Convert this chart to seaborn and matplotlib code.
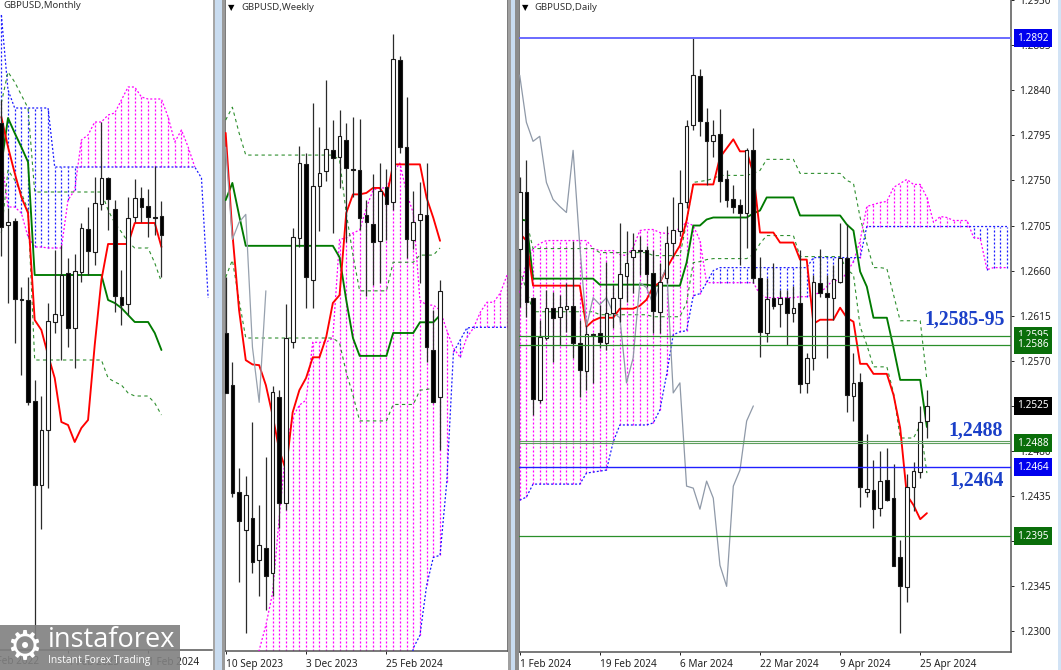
import numpy as np
import pandas as pd
import seaborn as sns
import matplotlib
matplotlib.use("Agg")
import matplotlib.pyplot as plt
from matplotlib.patches import Rectangle

sns.set_theme(style="white")
plt.rcParams['font.family'] = ['Noto Sans', 'DejaVu Sans']

W, H = 1061, 670

# ---- monthly candles
m_open = [1.3185, 1.2675, 1.2695, 1.2305, 1.2300, 1.1795, 1.1375, 1.1650, 1.2190, 1.2225, 1.2435, 1.2160, 1.2440, 1.2655, 1.2540, 1.2780, 1.2910, 1.2755, 1.2315, 1.2280, 1.2715, 1.2810, 1.2770, 1.2715, 1.2720]
m_high = [1.3300, 1.2760, 1.2710, 1.2365, 1.2415, 1.1900, 1.1820, 1.2285, 1.2550, 1.2575, 1.2510, 1.2530, 1.2685, 1.2765, 1.2915, 1.3190, 1.2915, 1.2800, 1.2450, 1.2815, 1.2905, 1.2865, 1.2855, 1.2970, 1.2795]
m_low = [1.2520, 1.2285, 1.2085, 1.1925, 1.1775, 1.0600, 1.1155, 1.1360, 1.2135, 1.2000, 1.2065, 1.1960, 1.2390, 1.2425, 1.2475, 1.2750, 1.2650, 1.2240, 1.2175, 1.2225, 1.2690, 1.2690, 1.2615, 1.2625, 1.2415]
m_close = [1.2665, 1.2690, 1.2305, 1.2300, 1.1790, 1.1375, 1.1650, 1.2195, 1.2230, 1.2425, 1.2160, 1.2445, 1.2660, 1.2545, 1.2785, 1.2910, 1.2805, 1.2320, 1.2275, 1.2710, 1.2810, 1.2765, 1.2715, 1.2710, 1.2625]
m_tenkan = [1.3215, 1.3065, 1.2935, 1.2815, 1.2735, 1.2200, 1.2150, 1.2025, 1.1910, 1.1690, 1.1675, 1.1590, 1.1660, 1.1700, 1.2075, 1.2400, 1.2580, 1.2580, 1.2580, 1.2580, 1.2685, 1.2685, 1.2685, 1.2685, 1.2565]
m_kijun = [1.2975, 1.3210, 1.3135, 1.3065, 1.2990, 1.2425, 1.2425, 1.2425, 1.2425, 1.2425, 1.2425, 1.2425, 1.2425, 1.2425, 1.2425, 1.2425, 1.2300, 1.2285, 1.2260, 1.2225, 1.2190, 1.2190, 1.2190, 1.2135, 1.2050]
m_upper = [1.3285, 1.3440, 1.3390, 1.3325, 1.3260, 1.2840, 1.2840, 1.2840, 1.2840, 1.2840, 1.2840, 1.2840, 1.2840, 1.2840, 1.2840, 1.2840, 1.2750, 1.2685, 1.2640, 1.2590, 1.2560, 1.2560, 1.2560, 1.2485, 1.2390]
m_lower = [1.2635, 1.2950, 1.2900, 1.2835, 1.2750, 1.2000, 1.2000, 1.2000, 1.2000, 1.2000, 1.2000, 1.2000, 1.2000, 1.2000, 1.2000, 1.2000, 1.1910, 1.1890, 1.1875, 1.1835, 1.1820, 1.1820, 1.1820, 1.1785, 1.1725]
m_span_a = [1.3015, 1.2765, 1.2765, 1.2735, 1.2615, 1.2565, 1.2565, 1.2560, 1.2560, 1.2560, 1.2800, 1.2850, 1.3100, 1.3125, 1.3190, 1.3190, 1.3225, 1.3235, 1.3300, 1.3365, 1.3365, 1.3315, 1.3305, 1.3305, 1.3305, 1.3215, 1.3090, 1.3150, 1.3065, 1.2965]
m_span_b = [1.3725, 1.3350, 1.3260, 1.3260, 1.3260, 1.3260, 1.3260, 1.3260, 1.2965, 1.2965, 1.2965, 1.2965, 1.2965, 1.2965, 1.2965, 1.2965, 1.2965, 1.2965, 1.2965, 1.2965, 1.2965, 1.2965, 1.2965, 1.2965, 1.2965, 1.2965, 1.2965, 1.2965, 1.2965, 1.2965, 1.2910, 1.2310]

# ---- weekly candles
w_open = [1.2474, 1.2401, 1.2251, 1.2198, 1.2215, 1.2156, 1.2173, 1.2138, 1.2384, 1.2236, 1.2461, 1.2607, 1.2710, 1.2548, 1.2680, 1.2701, 1.2730, 1.2720, 1.2744, 1.2703, 1.2702, 1.2639, 1.2626, 1.2603, 1.2678, 1.2657, 1.2856, 1.2734, 1.2604, 1.2632, 1.2639, 1.2450, 1.2384]
w_high = [1.2552, 1.2433, 1.2285, 1.2274, 1.2349, 1.2233, 1.2300, 1.2400, 1.2394, 1.2514, 1.2621, 1.2736, 1.2726, 1.2796, 1.2762, 1.2828, 1.2772, 1.2786, 1.2768, 1.2776, 1.2773, 1.2660, 1.2696, 1.2712, 1.2703, 1.2892, 1.2862, 1.2804, 1.2673, 1.2685, 1.2712, 1.2506, 1.2548]
w_low = [1.2390, 1.2244, 1.2125, 1.2054, 1.2138, 1.2106, 1.2086, 1.2106, 1.2201, 1.2226, 1.2453, 1.2594, 1.2509, 1.2509, 1.2617, 1.2687, 1.2614, 1.2677, 1.2601, 1.2664, 1.2618, 1.2526, 1.2541, 1.2544, 1.2604, 1.2646, 1.2726, 1.2579, 1.2591, 1.2544, 1.2433, 1.2376, 1.2310]
w_close = [1.2390, 1.2250, 1.2211, 1.2248, 1.2153, 1.2177, 1.2134, 1.2391, 1.2236, 1.2467, 1.2608, 1.2712, 1.2552, 1.2680, 1.2698, 1.2731, 1.2719, 1.2750, 1.2705, 1.2702, 1.2635, 1.2629, 1.2601, 1.2673, 1.2654, 1.2857, 1.2734, 1.2605, 1.2629, 1.2640, 1.2454, 1.2377, 1.2533]
w_tenkan = [1.2754, 1.2614, 1.2506, 1.2436, 1.2430, 1.2429, 1.2401, 1.2359, 1.2310, 1.2282, 1.2363, 1.2394, 1.2411, 1.2440, 1.2440, 1.2468, 1.2516, 1.2527, 1.2642, 1.2668, 1.2668, 1.2670, 1.2677, 1.2677, 1.2663, 1.2710, 1.2710, 1.2710, 1.2710, 1.2710, 1.2663, 1.2635, 1.2603]
w_kijun = [1.2660, 1.2684, 1.2639, 1.2596, 1.2596, 1.2596, 1.2596, 1.2596, 1.2596, 1.2596, 1.2596, 1.2596, 1.2596, 1.2596, 1.2596, 1.2596, 1.2596, 1.2580, 1.2520, 1.2467, 1.2442, 1.2442, 1.2442, 1.2442, 1.2442, 1.2474, 1.2474, 1.2474, 1.2474, 1.2489, 1.2489, 1.2489, 1.2499]
w_upper = [1.2772, 1.2790, 1.2754, 1.2723, 1.2723, 1.2723, 1.2723, 1.2723, 1.2723, 1.2723, 1.2723, 1.2723, 1.2723, 1.2723, 1.2723, 1.2723, 1.2723, 1.2716, 1.2642, 1.2583, 1.2533, 1.2533, 1.2533, 1.2533, 1.2533, 1.2573, 1.2573, 1.2573, 1.2573, 1.2583, 1.2583, 1.2583, 1.2593]
w_lower = [1.2552, 1.2576, 1.2520, 1.2467, 1.2467, 1.2467, 1.2467, 1.2467, 1.2467, 1.2467, 1.2467, 1.2467, 1.2467, 1.2467, 1.2467, 1.2467, 1.2467, 1.2460, 1.2419, 1.2387, 1.2351, 1.2351, 1.2351, 1.2351, 1.2351, 1.2374, 1.2374, 1.2374, 1.2374, 1.2394, 1.2395, 1.2397, 1.2401]
w_chikou = [1.2734, 1.2605, 1.2629, 1.2640, 1.2454, 1.2377, 1.2533]
w_span_a = [1.1990, 1.1990, 1.1990, 1.1990, 1.1990, 1.2030, 1.2065, 1.2110, 1.2216, 1.2313, 1.2356, 1.2373, 1.2380, 1.2461, 1.2461, 1.2461, 1.2467, 1.2605, 1.2607, 1.2614, 1.2618, 1.2649, 1.2674, 1.2677, 1.2677, 1.2698, 1.2712, 1.2670, 1.2642, 1.2520, 1.2513, 1.2513, 1.2506, 1.2478, 1.2453, 1.2440, 1.2468, 1.2481, 1.2503, 1.2517, 1.2517, 1.2530, 1.2555]
w_span_b = [1.1950, 1.1950, 1.1950, 1.1950, 1.1950, 1.1950, 1.1950, 1.1950, 1.1950, 1.1950, 1.1950, 1.1950, 1.1950, 1.1950, 1.1950, 1.1950, 1.1950, 1.1950, 1.1950, 1.1950, 1.1950, 1.1950, 1.1950, 1.1950, 1.1950, 1.1950, 1.1950, 1.1950, 1.2033, 1.2051, 1.2121, 1.2160, 1.2163, 1.2265, 1.2447, 1.2464, 1.2481, 1.2482, 1.2482, 1.2482, 1.2482, 1.2482, 1.2482]

# ---- daily candles
d_open = [1.2682, 1.2738, 1.2633, 1.2531, 1.2593, 1.2623, 1.2614, 1.2622, 1.2625, 1.2588, 1.2560, 1.2597, 1.2598, 1.2588, 1.2618, 1.2633, 1.2655, 1.2674, 1.2681, 1.2681, 1.2658, 1.2619, 1.2653, 1.2688, 1.2700, 1.2728, 1.2805, 1.2854, 1.2808, 1.2789, 1.2796, 1.2751, 1.2731, 1.2725, 1.2717, 1.2780, 1.2653, 1.2598, 1.2633, 1.2627, 1.2633, 1.2618, 1.2628, 1.2548, 1.2573, 1.2648, 1.2638, 1.2633, 1.2649, 1.2673, 1.2535, 1.2549, 1.2439, 1.2441, 1.2423, 1.2451, 1.2433, 1.2374, 1.2344, 1.2444, 1.2459, 1.2510]
d_high = [1.2753, 1.2770, 1.2634, 1.2611, 1.2641, 1.2639, 1.2636, 1.2648, 1.2690, 1.2611, 1.2606, 1.2598, 1.2626, 1.2669, 1.2646, 1.2708, 1.2700, 1.2698, 1.2695, 1.2685, 1.2681, 1.2668, 1.2705, 1.2733, 1.2760, 1.2810, 1.2892, 1.2861, 1.2822, 1.2810, 1.2821, 1.2760, 1.2745, 1.2731, 1.2782, 1.2802, 1.2674, 1.2653, 1.2668, 1.2641, 1.2641, 1.2645, 1.2681, 1.2578, 1.2656, 1.2682, 1.2656, 1.2666, 1.2708, 1.2707, 1.2578, 1.2558, 1.2497, 1.2471, 1.2480, 1.2483, 1.2467, 1.2391, 1.2457, 1.2469, 1.2525, 1.2541]
d_low = [1.2624, 1.2614, 1.2516, 1.2528, 1.2591, 1.2569, 1.2586, 1.2599, 1.2573, 1.2534, 1.2541, 1.2548, 1.2583, 1.2581, 1.2603, 1.2609, 1.2629, 1.2638, 1.2656, 1.2644, 1.2598, 1.2598, 1.2648, 1.2674, 1.2695, 1.2722, 1.2800, 1.2794, 1.2745, 1.2773, 1.2728, 1.2723, 1.2717, 1.2666, 1.2683, 1.2648, 1.2574, 1.2589, 1.2622, 1.2604, 1.2586, 1.2609, 1.2538, 1.2538, 1.2561, 1.2634, 1.2573, 1.2611, 1.2648, 1.2519, 1.2510, 1.2424, 1.2434, 1.2403, 1.2415, 1.2430, 1.2365, 1.2298, 1.2329, 1.2420, 1.2453, 1.2493]
d_close = [1.2738, 1.2629, 1.2532, 1.2594, 1.2623, 1.2613, 1.2624, 1.2625, 1.2588, 1.2561, 1.2597, 1.2596, 1.2589, 1.2618, 1.2633, 1.2657, 1.2668, 1.2681, 1.2680, 1.2657, 1.2620, 1.2649, 1.2688, 1.2701, 1.2727, 1.2804, 1.2855, 1.2809, 1.2789, 1.2795, 1.2749, 1.2730, 1.2723, 1.2717, 1.2780, 1.2653, 1.2599, 1.2632, 1.2625, 1.2633, 1.2618, 1.2623, 1.2547, 1.2573, 1.2649, 1.2638, 1.2634, 1.2652, 1.2673, 1.2536, 1.2548, 1.2444, 1.2442, 1.2422, 1.2450, 1.2431, 1.2365, 1.2345, 1.2444, 1.2460, 1.2509, 1.2525]
d_tenkan = [1.2697, 1.2690, 1.2645, 1.2645, 1.2645, 1.2645, 1.2645, 1.2645, 1.2645, 1.2645, 1.2604, 1.2610, 1.2613, 1.2613, 1.2613, 1.2622, 1.2622, 1.2622, 1.2625, 1.2631, 1.2644, 1.2648, 1.2662, 1.2674, 1.2685, 1.2710, 1.2746, 1.2746, 1.2746, 1.2746, 1.2773, 1.2782, 1.2791, 1.2779, 1.2779, 1.2757, 1.2698, 1.2698, 1.2698, 1.2688, 1.2688, 1.2688, 1.2671, 1.2671, 1.2607, 1.2611, 1.2611, 1.2611, 1.2623, 1.2613, 1.2609, 1.2567, 1.2567, 1.2557, 1.2557, 1.2557, 1.2536, 1.2503, 1.2436, 1.2426, 1.2412, 1.2418]
d_kijun = [1.2711, 1.2710, 1.2652, 1.2652, 1.2652, 1.2652, 1.2652, 1.2652, 1.2652, 1.2652, 1.2652, 1.2652, 1.2646, 1.2646, 1.2646, 1.2646, 1.2646, 1.2646, 1.2646, 1.2646, 1.2645, 1.2645, 1.2645, 1.2645, 1.2645, 1.2668, 1.2705, 1.2705, 1.2711, 1.2713, 1.2713, 1.2713, 1.2713, 1.2713, 1.2713, 1.2717, 1.2720, 1.2733, 1.2733, 1.2733, 1.2733, 1.2733, 1.2715, 1.2715, 1.2715, 1.2715, 1.2715, 1.2715, 1.2715, 1.2706, 1.2700, 1.2659, 1.2644, 1.2613, 1.2613, 1.2613, 1.2583, 1.2551, 1.2551, 1.2551, 1.2551, 1.2504]
d_upper = [1.2711, 1.2710, 1.2682, 1.2682, 1.2682, 1.2682, 1.2682, 1.2682, 1.2682, 1.2682, 1.2682, 1.2682, 1.2678, 1.2678, 1.2678, 1.2678, 1.2678, 1.2678, 1.2678, 1.2678, 1.2675, 1.2675, 1.2675, 1.2675, 1.2675, 1.2708, 1.2748, 1.2749, 1.2750, 1.2752, 1.2755, 1.2755, 1.2755, 1.2755, 1.2755, 1.2757, 1.2760, 1.2771, 1.2771, 1.2771, 1.2771, 1.2771, 1.2757, 1.2757, 1.2757, 1.2757, 1.2757, 1.2757, 1.2757, 1.2750, 1.2747, 1.2713, 1.2687, 1.2663, 1.2663, 1.2662, 1.2636, 1.2610, 1.2610, 1.2610, 1.2610, 1.2551]
d_lower = [1.2661, 1.2641, 1.2619, 1.2619, 1.2619, 1.2619, 1.2619, 1.2619, 1.2619, 1.2619, 1.2619, 1.2619, 1.2616, 1.2616, 1.2616, 1.2616, 1.2616, 1.2616, 1.2616, 1.2616, 1.2614, 1.2614, 1.2614, 1.2614, 1.2614, 1.2628, 1.2668, 1.2669, 1.2671, 1.2672, 1.2672, 1.2672, 1.2672, 1.2672, 1.2672, 1.2676, 1.2687, 1.2695, 1.2695, 1.2695, 1.2695, 1.2695, 1.2674, 1.2674, 1.2674, 1.2674, 1.2674, 1.2674, 1.2674, 1.2661, 1.2656, 1.2604, 1.2586, 1.2564, 1.2564, 1.2564, 1.2538, 1.2493, 1.2493, 1.2493, 1.2506, 1.2458]
d_chikou = [1.2855, 1.2808, 1.2789, 1.2794, 1.2748, 1.2731, 1.2724, 1.2718, 1.2780, 1.2685, 1.2604, 1.2633, 1.2626, 1.2633, 1.2618, 1.2613, 1.2548, 1.2573, 1.2648, 1.2643, 1.2626, 1.2648, 1.2664, 1.2538, 1.2548, 1.2445, 1.2443, 1.2422, 1.2450, 1.2433, 1.2366, 1.2345, 1.2445, 1.2461, 1.2510, 1.2525]
d_span_a = [1.2638, 1.2668, 1.2682, 1.2687, 1.2690, 1.2690, 1.2690, 1.2690, 1.2690, 1.2690, 1.2690, 1.2682, 1.2680, 1.2680, 1.2680, 1.2676, 1.2675, 1.2683, 1.2700, 1.2701, 1.2701, 1.2698, 1.2697, 1.2697, 1.2703, 1.2708, 1.2705, 1.2690, 1.2648, 1.2648, 1.2648, 1.2648, 1.2648, 1.2648, 1.2648, 1.2648, 1.2636, 1.2633, 1.2633, 1.2633, 1.2633, 1.2633, 1.2634, 1.2634, 1.2636, 1.2638, 1.2644, 1.2651, 1.2649, 1.2658, 1.2669, 1.2690, 1.2724, 1.2726, 1.2728, 1.2729, 1.2743, 1.2747, 1.2751, 1.2746, 1.2746, 1.2733, 1.2708, 1.2714, 1.2713, 1.2710, 1.2710, 1.2710, 1.2693, 1.2692, 1.2661, 1.2663, 1.2663, 1.2663]
d_span_b = [1.2431, 1.2434, 1.2447, 1.2447, 1.2447, 1.2447, 1.2447, 1.2447, 1.2447, 1.2447, 1.2458, 1.2459, 1.2460, 1.2461, 1.2489, 1.2506, 1.2506, 1.2506, 1.2506, 1.2506, 1.2508, 1.2521, 1.2556, 1.2596, 1.2599, 1.2600, 1.2635, 1.2637, 1.2648, 1.2660, 1.2663, 1.2663, 1.2663, 1.2663, 1.2663, 1.2663, 1.2663, 1.2663, 1.2663, 1.2663, 1.2663, 1.2663, 1.2663, 1.2663, 1.2673, 1.2673, 1.2673, 1.2673, 1.2673, 1.2673, 1.2673, 1.2673, 1.2704, 1.2704, 1.2704, 1.2704, 1.2704, 1.2704, 1.2704, 1.2704, 1.2704, 1.2704, 1.2704, 1.2704, 1.2704, 1.2704, 1.2704, 1.2704, 1.2704, 1.2704, 1.2704, 1.2704, 1.2704, 1.2704]

d_ticks = [1.2930, 1.2885, 1.2840, 1.2795, 1.2750, 1.2705, 1.2660, 1.2615, 1.2570, 1.2525, 1.2480, 1.2435, 1.2390, 1.2345, 1.2300]
d_levels_green = [1.2595, 1.2586, 1.2395]
d_band_green = [1.2490, 1.2488]
d_level_top = 1.2892
d_level_blue = 1.2464
d_tags = ["1.2892", "1.2595", "1.2586", "1.2525", "1.2488", "1.2464", "1.2395"]
d_tag_prices = [1.2892, 1.2595, 1.2586, 1.2525, 1.2488, 1.2464, 1.2395]
d_tag_colors = ["#0000ee", "#0a6e0a", "#0a6e0a", "#000000", "#0a6e0a", "#0000ee", "#0a6e0a"]
notes = ["1,2585-95", "1,2488", "1,2464"]
note_x = [66.7, 68.3, 68.4]
note_y = [1.2611, 1.2500, 1.2451]


def panel(left, right, bottom):
    return fig.add_axes([left / W, 1 - bottom / H, (right - left) / W, bottom / H])


def line(ax, values, color, lw, ls="-"):
    x = np.arange(len(values))
    sns.lineplot(x=x, y=values, ax=ax, color=color, linewidth=lw, linestyle=ls,
                 errorbar=None, legend=False, zorder=3)


def cloud(ax, span_a, span_b):
    n = min(len(span_a), len(span_b))
    a = np.array(span_a[:n])
    b = np.array(span_b[:n])
    x = np.arange(n)
    up = a >= b
    dots = (0, (1.6, 1.6))
    ax.vlines(x[up], b[up], a[up], color="#ff00ff", linewidth=0.9, linestyles=[dots], zorder=1)
    ax.vlines(x[~up], a[~up], b[~up], color="#1a1aff", linewidth=0.9, linestyles=[dots], zorder=1)
    line(ax, span_a, "#ff00ff", 0.9, dots)
    line(ax, span_b, "#1a1aff", 0.9, dots)


def candles(ax, o, h, l, c):
    df = pd.DataFrame({"o": o, "h": h, "l": l, "c": c})
    df["x"] = df.index
    df["low_body"] = df[["o", "c"]].min(axis=1)
    df["size"] = (df["o"] - df["c"]).abs()
    ax.vlines(df["x"], df["l"], df["h"], color="#2b2b2b", linewidth=0.9, zorder=5)
    fill = np.where(df["c"] >= df["o"], "white", "black")
    ax.bar(df["x"], df["size"], bottom=df["low_body"], width=0.55, color=fill,
           edgecolor="#1a1a1a", linewidth=0.8, zorder=6)


def ichimoku(ax, tenkan, kijun, upper, lower):
    line(ax, upper, "#2f8f2f", 0.8, (0, (3, 3)))
    line(ax, lower, "#2f8f2f", 0.8, (0, (3, 3)))
    line(ax, kijun, "#007a00", 1.35)
    line(ax, tenkan, "#ff0000", 1.35)


def finish(ax, xlim, ylim, ticks, labels):
    ax.set_xlim(*xlim)
    ax.set_ylim(*ylim)
    ax.set_xlabel("")
    ax.set_ylabel("")
    ax.set_yticks([])
    ax.set_xticks(ticks)
    ax.set_xticklabels(labels, ha="left", fontsize=7.2, color="#222222")
    ax.tick_params(axis="x", length=2.5, width=0.7, color="#222222", pad=3, bottom=True)
    for s in ax.spines.values():
        s.set_color("#555555")
        s.set_linewidth(1.1)


fig = plt.figure(figsize=(W / 100, H / 100), dpi=100, facecolor="white")

# monthly
ax1 = panel(0, 212, 649.5)
cloud(ax1, m_span_a, m_span_b)
ichimoku(ax1, m_tenkan, m_kijun, m_upper, m_lower)
candles(ax1, m_open, m_high, m_low, m_close)
finish(ax1, (-0.2, 31.58), (1.05525, 1.3800), [10, 22], ["1 Feb 2023", "1 Feb 2024"])
ax1.text(-2, -0.0095, "1 Feb 2022", transform=ax1.get_xaxis_transform(), ha="left", va="top",
         fontsize=7.2, color="#222222", clip_on=False)
ax1.spines["left"].set_visible(False)
ax1.spines["top"].set_visible(False)
ax1.spines["right"].set_visible(False)

# weekly
ax2 = panel(225, 507.5, 651)
cloud(ax2, w_span_a, w_span_b)
ichimoku(ax2, w_tenkan, w_kijun, w_upper, w_lower)
line(ax2, w_chikou, "#97a1ae", 0.9)
candles(ax2, w_open, w_high, w_low, w_close)
finish(ax2, (-0.1, 42.07), (1.2029, 1.2940), [0, 12, 24], ["10 Sep 2023", "3 Dec 2023", "25 Feb 2024"])
ax2.spines["top"].set_visible(False)

# daily
ax3 = panel(518.5, 1011, 651.5)
cloud(ax3, d_span_a, d_span_b)
ichimoku(ax3, d_tenkan, d_kijun, d_upper, d_lower)
line(ax3, d_chikou, "#8f99a8", 0.9)
candles(ax3, d_open, d_high, d_low, d_close)
ax3.axhline(d_level_top, color="#6a6aff", linewidth=1.4, zorder=7)
ax3.axhline(d_level_blue, color="#2020ff", linewidth=1.0, zorder=7)
for p in d_levels_green:
    ax3.axhline(p, color="#2a8f2a", linewidth=0.9, zorder=7)
for p in d_band_green:
    ax3.axhline(p, color="#5f9f5f", linewidth=0.8, zorder=7)
finish(ax3, (-0.18, 73.6), (1.2280, 1.2930), [0, 12, 24, 36, 48, 60],
       ["1 Feb 2024", "19 Feb 2024", "6 Mar 2024", "22 Mar 2024", "9 Apr 2024", "25 Apr 2024"])
ax3.spines["top"].set_visible(False)
ax3.yaxis.tick_right()
ax3.set_yticks(d_ticks)
ax3.set_yticklabels([f"{v:.4f}" for v in d_ticks], fontsize=7.2, color="#222222")
ax3.tick_params(axis="y", length=2.5, width=0.7, color="#222222", pad=3, right=True)
for label, price, color in zip(d_tags, d_tag_prices, d_tag_colors):
    ax3.text(1.0 + 6 / 492.5, price, label, transform=ax3.get_yaxis_transform(), color="white",
             fontsize=7.2, ha="left", va="center", clip_on=False, zorder=9,
             bbox=dict(boxstyle="square,pad=0.33", fc=color, ec="none"))
for text, x, y in zip(notes, note_x, note_y):
    ax3.text(x, y, text, color="#1a3fc8", fontsize=14.2, fontweight="bold", family="Liberation Serif",
             ha="center", va="center", zorder=10)


def block(x0, x1, color, y0=0, y1=H, alpha=1.0):
    fig.add_artist(Rectangle((x0 / W, 1 - y1 / H), (x1 - x0) / W, (y1 - y0) / H,
                             transform=fig.transFigure, fc=color, ec="none", alpha=alpha, zorder=2))


# window frames
block(212.5, 215, "#a6a6a6")
block(215, 222, "#c9dcf0")
block(222, 225, "#9a9a9a")
block(508, 510.5, "#a0a0a0")
block(510.5, 515, "#c9dcf0")
block(515, 518.5, "#8c8c8c")
block(1058, 1061, "#d2e3f5")

# titles
fig.text(3 / W, 1 - 6 / H, "GBPUSD,Monthly", fontsize=6.9, color="#333333", va="center")
fig.text(227.5 / W, 1 - 8 / H, "▼", fontsize=6, color="black", va="center")
fig.text(241 / W, 1 - 8 / H, "GBPUSD,Weekly", fontsize=6.9, color="#333333", va="center")
fig.text(521.5 / W, 1 - 7.5 / H, "▼", fontsize=6, color="black", va="center")
fig.text(534.5 / W, 1 - 7.5 / H, "GBPUSD,Daily", fontsize=6.9, color="#333333", va="center")

# watermark
block(0, 180, "#808080", 625, 670, alpha=0.9)
wm = dict(color="white", va="center", zorder=4)
fig.text(6 / W, 1 - 648 / H, "⚙", fontsize=29, family="DejaVu Sans", **wm)
fig.text(48 / W, 1 - 640 / H, "instaforex", fontsize=19.5, family="Open Sans", **wm)
fig.text(48 / W, 1 - 661 / H, "Instant Forex Trading", fontsize=7.4, family="Open Sans", **wm)

fig.savefig("out.png", dpi=100)
